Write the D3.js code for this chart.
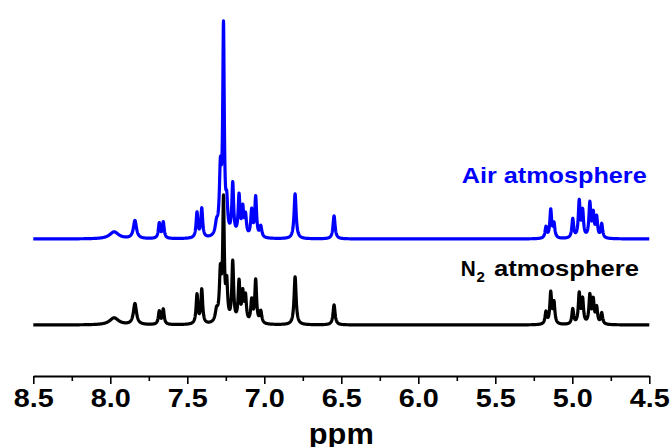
<!DOCTYPE html>
<html>
<head>
<meta charset="utf-8">
<script src="https://cdn.jsdelivr.net/npm/d3@7"></script>
<style>
  body { margin: 0; background: #fff; }
  text { font-family: "Liberation Sans", Arial, sans-serif; font-weight: bold; }
</style>
</head>
<body>
<svg id="chart" width="670" height="447"></svg>
<script>
// peak list (ppm, half width in ppm, heights in a.u.)
const peakPpm   = [7.975, 7.840, 7.682, 7.656, 7.437, 7.406, 7.310, 7.285, 7.265, 7.244, 7.205, 7.164, 7.140, 7.122, 7.082, 7.056, 7.023, 6.800, 6.547, 5.171, 5.140, 5.119, 4.997, 4.955, 4.933, 4.886, 4.864, 4.842, 4.809];
const peakWidth = [0.035, 0.012, 0.007, 0.007, 0.007, 0.007, 0.010, 0.008, 0.006, 0.007, 0.007, 0.007, 0.007, 0.007, 0.007, 0.007, 0.008, 0.008, 0.008, 0.007, 0.007, 0.007, 0.007, 0.007, 0.007, 0.007, 0.007, 0.007, 0.007];
const airHeights = [7, 18, 15, 16, 25, 29, 11, 62, 205, 28, 52, 40, 27, 20, 26, 40, 11, 45, 23, 11, 28, 14, 19, 36, 26, 34, 23, 20, 14];
const n2Heights  = [7, 21, 13, 15, 29, 34, 11, 48, 118, 36, 60, 40, 28, 25, 22, 43, 12, 48, 20, 12, 31, 21, 15, 30, 24, 28, 23, 16, 11];

const traceNames   = ["Air atmosphere", "N2 atmosphere"];
const traceColors  = ["#0000ff", "#000000"];
const traceOffsets = [86, 0];

const majorTicks = [8.5, 8.0, 7.5, 7.0, 6.5, 6.0, 5.5, 5.0, 4.5];
const minorTicks = [8.25, 7.75, 7.25, 6.75, 6.25, 5.75, 5.25, 4.75];
const xTitle = "ppm";

const svg = d3.select("#chart");

const x = d3.scaleLinear().domain([8.5, 4.5]).range([33.3, 649.3]);
const y = d3.scaleLinear().domain([0, 300]).range([325, 25]);

function spectrum(heights, offset) {
    let pts = [];
    for (let i = 0; i <= 4000; i++) {
        let p = 8.5 - i * 0.001;
        let s = 0;
        peakPpm.forEach((c, k) => {
            let d = (p - c) / peakWidth[k];
            s += heights[k] / (1 + d * d);
        });
        pts.push([p, s + offset]);
    }
    return pts;
}

const line = d3.line().x(d => x(d[0])).y(d => y(d[1]));

[airHeights, n2Heights].forEach((h, i) => {
    svg.append("path")
        .datum(spectrum(h, traceOffsets[i]))
        .attr("fill", "none")
        .attr("stroke", traceColors[i])
        .attr("stroke-width", 3.2)
        .attr("stroke-linejoin", "round")
        .attr("d", line);
});

// axis
const axisY = 376;
svg.append("g")
    .attr("transform", `translate(0,${axisY})`)
    .call(d3.axisBottom(x).tickValues(minorTicks).tickSize(5).tickSizeOuter(0).tickFormat(""))
    .call(g => g.select(".domain").remove())
    .call(g => g.selectAll(".tick line").attr("stroke-width", 1.6));

svg.append("g")
    .attr("transform", `translate(0,${axisY})`)
    .call(d3.axisBottom(x).tickValues(majorTicks).tickSize(8).tickSizeOuter(0).tickPadding(4).tickFormat(d3.format(".1f")))
    .call(g => g.select(".domain").attr("stroke-width", 2))
    .call(g => g.selectAll(".tick line").attr("stroke-width", 1.6))
    .call(g => g.selectAll(".tick text")
        .attr("fill", "#000")
        .attr("font-size", 26.5)
        .attr("font-family", "Liberation Sans, Arial, sans-serif")
        .attr("font-weight", "bold")
        .attr("textLength", 40)
        .attr("lengthAdjust", "spacingAndGlyphs"));

svg.append("text")
    .attr("x", x(6.5))
    .attr("y", 444)
    .attr("text-anchor", "middle")
    .attr("font-size", 29)
    .attr("textLength", 65)
    .attr("lengthAdjust", "spacingAndGlyphs")
    .text(xTitle);

// labels
svg.append("text")
    .attr("x", 461.7)
    .attr("y", 183)
    .attr("font-size", 22.5)
    .attr("fill", traceColors[0])
    .attr("textLength", 185)
    .attr("lengthAdjust", "spacingAndGlyphs")
    .text(traceNames[0]);

const n2 = svg.append("g").attr("fill", traceColors[1]);
n2.append("text").attr("x", 460.7).attr("y", 276).attr("font-size", 22.5)
    .attr("textLength", 15).attr("lengthAdjust", "spacingAndGlyphs").text("N");
n2.append("text").attr("x", 476.5).attr("y", 282).attr("font-size", 15).text("2");
n2.append("text").attr("x", 494).attr("y", 276).attr("font-size", 22.5)
    .attr("textLength", 145).attr("lengthAdjust", "spacingAndGlyphs")
    .text(traceNames[1].split(" ")[1]);
</script>
</body>
</html>
